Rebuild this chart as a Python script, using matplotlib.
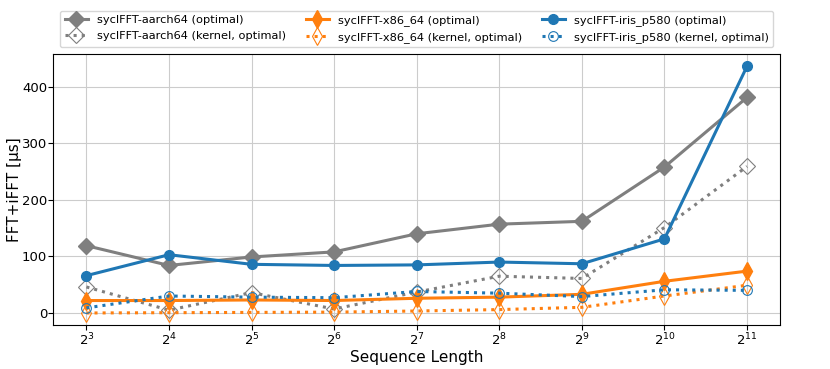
import matplotlib
matplotlib.use("Agg")
import matplotlib.pyplot as plt

seq_len = [8, 16, 32, 64, 128, 256, 512, 1024, 2048]

aarch64_opt = [119, 84, 99, 108, 140, 157, 162, 258, 381]
aarch64_kernel = [46, 5, 36, 7, 37, 65, 61, 151, 259]
x86_opt = [22, 22, 23, 22, 26, 28, 33, 56, 74]
x86_kernel = [0, 0.5, 1, 1.5, 3.5, 6, 10, 30, 49]
iris_opt = [66, 103, 86, 84, 85, 90, 87, 131, 436]
iris_kernel = [9, 30, 28, 27, 38, 35, 29, 41, 40]

fig = plt.figure(figsize=(8.3, 3.69), dpi=100)
ax = fig.add_axes([0.0643, 0.1184, 0.8755, 0.7353])

lw = 2.2
ax.plot(seq_len, aarch64_opt, color="tab:gray", marker="D", ms=8, lw=lw,
        label="syclFFT-aarch64 (optimal)")
ax.plot(seq_len, aarch64_kernel, color="tab:gray", marker="D", ms=8, lw=lw, ls=":",
        mfc="none", mew=0.8, label="syclFFT-aarch64 (kernel, optimal)")
ax.plot(seq_len, x86_opt, color="tab:orange", marker="d", ms=9, lw=lw,
        label="syclFFT-x86_64 (optimal)")
ax.plot(seq_len, x86_kernel, color="tab:orange", marker="d", ms=9, lw=lw, ls=":",
        mfc="none", mew=0.8, label="syclFFT-x86_64 (kernel, optimal)")
ax.plot(seq_len, iris_opt, color="tab:blue", marker="o", ms=7, lw=lw,
        label="syclFFT-iris_p580 (optimal)")
ax.plot(seq_len, iris_kernel, color="tab:blue", marker="o", ms=7, lw=lw, ls=":",
        mfc="none", mew=0.8, label="syclFFT-iris_p580 (kernel, optimal)")

ax.set_xscale("log", base=2)
ax.set_xticks(seq_len)
ax.grid(True, color="#cccccc", lw=0.8)
ax.tick_params(labelsize=9.5, pad=1)
ax.set_xlabel("Sequence Length", fontsize=11, labelpad=1)
ax.set_ylabel("FFT+iFFT [µs]", fontsize=11, labelpad=0)

ax.legend(loc="lower left", bbox_to_anchor=(0, 1.0, 1, 0.2), mode="expand",
          ncol=3, fontsize=8.2, borderaxespad=0.6, handlelength=2.0)

fig.savefig("out.png", dpi=100)
